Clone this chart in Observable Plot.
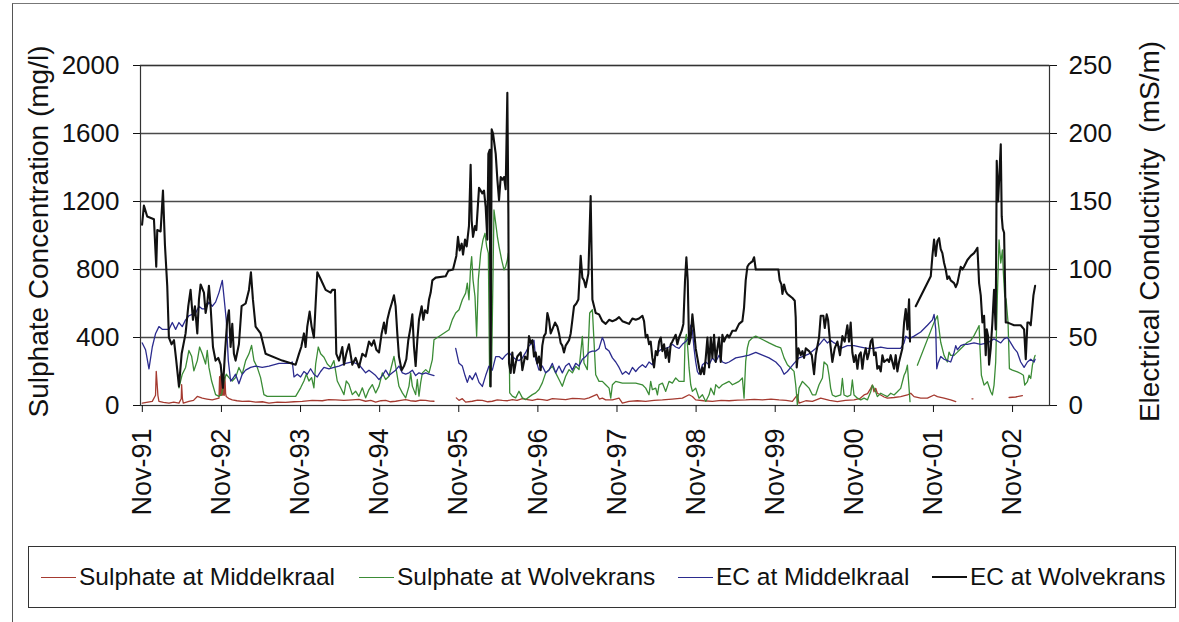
<!DOCTYPE html>
<html>
<head>
<meta charset="utf-8">
<script src="https://cdn.jsdelivr.net/npm/d3@7"></script>
<script src="https://cdn.jsdelivr.net/npm/@observablehq/plot@0.6"></script>
<style>
  html, body { margin: 0; padding: 0; background: #fff; }
  body { position: relative; width: 1179px; height: 622px; overflow: hidden; font-family: "Liberation Sans", Arial, sans-serif; color: #111; }
  #frame { position: absolute; left: 12px; top: 3px; right: 0; bottom: 0; border-left: 1.5px solid #555; border-top: 1px solid #777; pointer-events: none; }
  #chart { position: absolute; left: 0; top: 0; }
  #legend { position: absolute; left: 28px; top: 546px; width: 1146px; height: 60px; border: 1.5px solid #333; background: #fff; }
  .item { position: absolute; top: 0; height: 60px; display: flex; align-items: center; font-size: 24.5px; white-space: nowrap; }
  .sw { display: inline-block; width: 35px; height: 0; margin-right: 3px; }
</style>
</head>
<body>
<div id="frame"></div>
<div id="chart"></div>
<div id="legend"></div>
<script>
// ---- Data (decimal years, values) ----
const seriesNames = ["Sulphate at Middelkraal", "Sulphate at Wolvekrans", "EC at Middelkraal", "EC at Wolvekrans"];
const seriesColors = ["#a53a30", "#3b8c36", "#2b2b8e", "#111111"];

const xTickYears = [1991.833, 1992.833, 1993.833, 1994.833, 1995.833, 1996.833, 1997.833, 1998.833, 1999.833, 2000.833, 2001.833, 2002.833];
const xTickLabels = ["Nov-91", "Nov-92", "Nov-93", "Nov-94", "Nov-95", "Nov-96", "Nov-97", "Nov-98", "Nov-99", "Nov-00", "Nov-01", "Nov-02"];
const sulphateTicks = [0, 400, 800, 1200, 1600, 2000];
const ecTicks = [0, 50, 100, 150, 200, 250];

// Sulphate at Middelkraal (mg/l)
const sulphateMiddelkraal = [[1991.832,14],[1991.959,24],[1992.0,60],[1992.009,201],[1992.03,60],[1992.043,24],[1992.1,18],[1992.17,14],[1992.23,20],[1992.296,14],[1992.325,40],[1992.33,122],[1992.34,40],[1992.351,14],[1992.422,24],[1992.48,30],[1992.528,53],[1992.591,43],[1992.65,38],[1992.717,33],[1992.802,43],[1992.81,170],[1992.818,60],[1992.827,180],[1992.835,60],[1992.844,185],[1992.852,60],[1992.861,175],[1992.869,60],[1992.877,165],[1992.886,70],[1992.894,53],[1992.93,40],[1992.97,33],[1993.03,28],[1993.096,24],[1993.18,26],[1993.265,20],[1993.35,22],[1993.434,14],[1993.54,20],[1993.644,18],[1993.75,22],[1993.855,24],[1993.98,30],[1994.108,28],[1994.19,34],[1994.277,33],[1994.38,30],[1994.487,33],[1994.57,36],[1994.656,25],[1994.72,30],[1994.783,20],[1994.85,28],[1994.909,30],[1994.97,22],[1995.035,25],[1995.1,30],[1995.162,35],[1995.22,28],[1995.288,25],[1995.35,32],[1995.415,30],[1995.47,26],[1995.52,25],[1995.65,null],[1995.802,45],[1995.836,30],[1995.878,40],[1995.92,20],[1996.004,25],[1996.07,32],[1996.131,30],[1996.2,22],[1996.257,25],[1996.32,33],[1996.384,30],[1996.45,28],[1996.51,35],[1996.57,30],[1996.637,40],[1996.7,35],[1996.763,30],[1996.83,38],[1996.889,35],[1996.95,30],[1997.016,40],[1997.1,38],[1997.184,35],[1997.27,42],[1997.353,40],[1997.42,38],[1997.479,45],[1997.58,65],[1997.61,38],[1997.648,43],[1997.69,33],[1997.775,33],[1997.859,43],[1997.901,14],[1997.985,24],[1998.09,28],[1998.196,24],[1998.3,30],[1998.407,33],[1998.53,38],[1998.66,43],[1998.744,63],[1998.786,53],[1998.828,33],[1998.93,28],[1999.039,24],[1999.15,30],[1999.25,28],[1999.36,32],[1999.46,33],[1999.57,36],[1999.671,33],[1999.78,38],[1999.882,33],[1999.97,30],[2000.05,24],[2000.113,63],[2000.134,14],[2000.22,28],[2000.303,24],[2000.408,43],[2000.52,30],[2000.619,23],[2000.72,30],[2000.829,33],[2000.9,40],[2000.956,62],[2001.0,70],[2001.04,101],[2001.061,120],[2001.082,81],[2001.103,101],[2001.124,72],[2001.167,62],[2001.21,50],[2001.251,43],[2001.335,47],[2001.419,52],[2001.504,62],[2001.546,72],[2001.588,52],[2001.672,43],[2001.757,43],[2001.841,62],[2001.883,52],[2001.967,43],[2002.051,33],[2002.115,23],[2002.2,null],[2002.32,39],[2002.333,39],[2002.5,null],[2002.789,47],[2002.873,50],[2002.957,58]];

// Sulphate at Wolvekrans (mg/l)
const sulphateWolvekrans = [[1992.296,104],[1992.338,184],[1992.38,224],[1992.422,324],[1992.456,290],[1992.485,204],[1992.528,264],[1992.557,344],[1992.591,304],[1992.633,244],[1992.654,324],[1992.675,224],[1992.709,144],[1992.759,64],[1992.802,54],[1992.835,64],[1992.865,144],[1992.894,184],[1992.928,164],[1992.97,144],[1993.012,164],[1993.054,224],[1993.096,184],[1993.139,264],[1993.181,304],[1993.214,354],[1993.244,264],[1993.286,224],[1993.328,164],[1993.37,64],[1993.412,54],[1993.602,54],[1993.771,54],[1993.834,104],[1993.876,144],[1993.906,184],[1993.939,144],[1993.973,164],[1994.002,104],[1994.024,244],[1994.057,344],[1994.087,304],[1994.129,284],[1994.171,244],[1994.213,224],[1994.255,264],[1994.297,144],[1994.34,104],[1994.382,64],[1994.411,144],[1994.445,124],[1994.487,64],[1994.529,84],[1994.571,54],[1994.614,104],[1994.656,45],[1994.698,94],[1994.74,123],[1994.783,74],[1994.825,114],[1994.867,192],[1994.909,153],[1994.951,172],[1994.993,250],[1995.014,289],[1995.035,231],[1995.077,113],[1995.12,74],[1995.162,45],[1995.204,114],[1995.225,192],[1995.246,114],[1995.288,64],[1995.309,153],[1995.33,55],[1995.351,133],[1995.373,192],[1995.415,211],[1995.457,192],[1995.499,270],[1995.52,387],[1995.71,446],[1995.752,505],[1995.794,544],[1995.836,563],[1995.878,622],[1995.92,661],[1995.941,720],[1995.962,622],[1995.983,818],[1995.996,876],[1996.013,739],[1996.038,641],[1996.059,407],[1996.08,739],[1996.11,896],[1996.139,974],[1996.165,1013],[1996.186,935],[1996.207,896],[1996.224,113],[1996.249,250],[1996.278,1150],[1996.3,1072],[1996.321,994],[1996.342,935],[1996.375,857],[1996.405,798],[1996.426,818],[1996.447,857],[1996.46,896],[1996.477,74],[1996.51,55],[1996.552,45],[1996.594,84],[1996.637,45],[1996.679,35],[1996.763,64],[1996.805,74],[1996.847,94],[1996.889,133],[1996.932,192],[1996.974,211],[1997.016,231],[1997.058,192],[1997.1,153],[1997.142,113],[1997.184,172],[1997.227,211],[1997.269,192],[1997.311,231],[1997.353,211],[1997.395,407],[1997.416,250],[1997.458,211],[1997.488,544],[1997.522,563],[1997.564,181],[1997.606,142],[1997.648,142],[1997.69,122],[1997.733,102],[1997.754,43],[1997.775,122],[1997.817,142],[1997.901,132],[1997.985,132],[1998.07,132],[1998.154,122],[1998.196,102],[1998.238,63],[1998.259,142],[1998.28,93],[1998.323,102],[1998.344,63],[1998.365,122],[1998.407,132],[1998.449,83],[1998.491,142],[1998.533,132],[1998.575,162],[1998.618,142],[1998.681,142],[1998.693,378],[1998.71,418],[1998.727,339],[1998.744,221],[1998.765,122],[1998.786,83],[1998.828,102],[1998.87,43],[1998.913,63],[1998.955,24],[1998.997,63],[1999.018,102],[1999.06,63],[1999.081,122],[1999.123,102],[1999.165,122],[1999.207,132],[1999.25,142],[1999.292,122],[1999.334,132],[1999.376,142],[1999.418,162],[1999.439,43],[1999.46,260],[1999.481,339],[1999.502,378],[1999.545,398],[1999.587,408],[1999.671,388],[1999.755,368],[1999.84,349],[1999.903,339],[1999.945,280],[1999.987,240],[2000.029,221],[2000.071,201],[2000.092,122],[2000.113,4],[2000.134,102],[2000.177,142],[2000.219,122],[2000.261,102],[2000.303,63],[2000.345,63],[2000.387,122],[2000.43,162],[2000.45,256],[2000.492,237],[2000.513,178],[2000.534,101],[2000.555,62],[2000.597,52],[2000.661,62],[2000.682,159],[2000.703,62],[2000.745,52],[2000.787,62],[2000.808,150],[2000.829,62],[2000.872,43],[2000.914,33],[2000.956,43],[2000.998,33],[2001.04,81],[2001.061,120],[2001.082,101],[2001.103,81],[2001.124,52],[2001.167,72],[2001.209,62],[2001.251,52],[2001.293,72],[2001.335,62],[2001.377,81],[2001.419,101],[2001.462,178],[2001.483,198],[2001.504,237],[2001.525,101],[2001.537,23],[2001.58,null],[2001.63,237],[2001.841,489],[2001.883,528],[2001.904,450],[2001.925,372],[2001.967,295],[2002.009,256],[2002.03,314],[2002.051,295],[2002.094,295],[2002.136,314],[2002.178,334],[2002.22,353],[2002.262,372],[2002.304,382],[2002.346,411],[2002.389,450],[2002.41,470],[2002.422,334],[2002.439,178],[2002.473,120],[2002.515,140],[2002.557,81],[2002.578,62],[2002.599,120],[2002.62,256],[2002.641,644],[2002.662,974],[2002.684,838],[2002.705,915],[2002.717,780],[2002.734,644],[2002.751,625],[2002.776,489],[2002.793,217],[2002.831,208],[2002.894,198],[2002.936,188],[2002.97,178],[2002.987,120],[2003.021,140],[2003.042,178],[2003.063,159],[2003.084,237],[2003.105,275],[2003.118,295]];

// EC at Middelkraal (mS/m)
const ecMiddelkraal = [[1991.832,46],[1991.874,41],[1991.917,27],[1991.959,43],[1992.001,53],[1992.043,58],[1992.085,56],[1992.128,56],[1992.17,56],[1992.212,61],[1992.254,56],[1992.296,61],[1992.338,58],[1992.38,63],[1992.422,66],[1992.464,67],[1992.507,68],[1992.549,73],[1992.591,71],[1992.633,71],[1992.675,76],[1992.717,73],[1992.759,76],[1992.802,83],[1992.844,92],[1992.865,80],[1992.894,63],[1992.92,33],[1992.949,18],[1992.979,20],[1993.012,23],[1993.054,16],[1993.096,23],[1993.139,26],[1993.202,28],[1993.265,29],[1993.349,28],[1993.434,29],[1993.56,31],[1993.686,31],[1993.729,32],[1993.75,21],[1993.792,23],[1993.834,21],[1993.876,25],[1993.918,23],[1993.96,27],[1994.002,23],[1994.045,21],[1994.087,25],[1994.129,28],[1994.192,27],[1994.255,28],[1994.319,29],[1994.403,31],[1994.487,32],[1994.571,30],[1994.614,27],[1994.656,24],[1994.698,26],[1994.74,24],[1994.783,22],[1994.825,19],[1994.867,22],[1994.909,26],[1994.951,22],[1994.993,24],[1995.035,26],[1995.077,29],[1995.12,24],[1995.162,23],[1995.204,24],[1995.246,26],[1995.288,22],[1995.33,24],[1995.373,23],[1995.415,24],[1995.457,23],[1995.52,22],[1995.65,null],[1995.794,42],[1995.836,31],[1995.878,29],[1995.912,22],[1995.941,17],[1995.971,22],[1996.004,19],[1996.047,24],[1996.089,17],[1996.131,14],[1996.173,22],[1996.215,29],[1996.257,26],[1996.3,36],[1996.342,36],[1996.384,34],[1996.426,37],[1996.468,39],[1996.51,36],[1996.552,34],[1996.594,33],[1996.637,35],[1996.679,39],[1996.721,44],[1996.763,46],[1996.784,48],[1996.805,34],[1996.847,26],[1996.889,29],[1996.932,24],[1996.974,26],[1997.016,31],[1997.058,24],[1997.1,29],[1997.142,24],[1997.184,29],[1997.227,31],[1997.269,26],[1997.311,31],[1997.353,29],[1997.395,34],[1997.437,36],[1997.479,39],[1997.522,40],[1997.564,40],[1997.606,42],[1997.648,50],[1997.669,47],[1997.69,42],[1997.733,40],[1997.775,35],[1997.817,32],[1997.859,28],[1997.901,23],[1997.943,25],[1997.985,23],[1998.028,28],[1998.07,25],[1998.112,28],[1998.154,30],[1998.196,28],[1998.238,32],[1998.28,30],[1998.323,37],[1998.365,40],[1998.407,42],[1998.449,42],[1998.491,43],[1998.533,45],[1998.575,43],[1998.618,42],[1998.66,45],[1998.702,47],[1998.744,50],[1998.765,59],[1998.786,55],[1998.807,42],[1998.828,32],[1998.849,25],[1998.87,23],[1998.891,25],[1998.913,30],[1998.955,32],[1998.997,30],[1999.039,35],[1999.081,32],[1999.123,37],[1999.165,32],[1999.207,31],[1999.25,32],[1999.334,35],[1999.418,36],[1999.502,37],[1999.587,39],[1999.671,37],[1999.755,35],[1999.84,32],[1999.903,28],[1999.945,23],[1999.987,25],[2000.029,28],[2000.071,31],[2000.134,35],[2000.177,36],[2000.261,38],[2000.345,42],[2000.408,46],[2000.45,49],[2000.492,46],[2000.534,48],[2000.577,46],[2000.619,45],[2000.661,42],[2000.745,44],[2000.829,44],[2000.914,43],[2000.998,42],[2001.082,42],[2001.167,43],[2001.251,42],[2001.335,42],[2001.419,42],[2001.462,46],[2001.483,51],[2001.525,49],[2001.588,51],[2001.672,54],[2001.757,59],[2001.82,63],[2001.841,67],[2001.862,56],[2001.875,27],[2001.891,31],[2001.925,36],[2001.967,34],[2002.009,33],[2002.051,32],[2002.094,39],[2002.115,44],[2002.136,41],[2002.178,44],[2002.22,45],[2002.262,45],[2002.346,46],[2002.431,45],[2002.515,46],[2002.599,49],[2002.684,46],[2002.726,49],[2002.768,50],[2002.81,46],[2002.852,42],[2002.894,39],[2002.936,32],[2002.979,28],[2003.021,32],[2003.063,34],[2003.105,32],[2003.118,34]];

// EC at Wolvekrans (mS/m)
const ecWolvekrans = [[1991.83,133],[1991.853,147],[1991.895,139],[1991.98,137],[1992.009,102],[1992.022,129],[1992.064,128],[1992.094,158],[1992.119,118],[1992.148,88],[1992.169,50],[1992.203,45],[1992.233,48],[1992.262,33],[1992.296,14],[1992.33,38],[1992.38,53],[1992.414,73],[1992.443,85],[1992.473,63],[1992.498,73],[1992.528,53],[1992.549,78],[1992.57,89],[1992.612,83],[1992.633,68],[1992.654,75],[1992.675,88],[1992.696,73],[1992.726,43],[1992.759,33],[1992.793,35],[1992.823,30],[1992.852,13],[1992.877,38],[1992.907,63],[1992.928,70],[1992.949,43],[1992.97,60],[1992.991,38],[1993.012,33],[1993.054,45],[1993.088,73],[1993.139,75],[1993.181,85],[1993.206,98],[1993.231,78],[1993.265,58],[1993.328,53],[1993.391,38],[1993.602,33],[1993.771,30],[1993.813,38],[1993.842,43],[1993.876,53],[1993.897,43],[1993.918,58],[1993.948,69],[1993.973,58],[1994.002,50],[1994.024,75],[1994.045,98],[1994.087,93],[1994.15,85],[1994.213,83],[1994.234,85],[1994.268,85],[1994.285,38],[1994.319,33],[1994.361,43],[1994.382,30],[1994.411,38],[1994.445,45],[1994.487,30],[1994.529,35],[1994.571,28],[1994.614,38],[1994.656,36],[1994.698,47],[1994.732,44],[1994.761,48],[1994.791,41],[1994.825,39],[1994.858,53],[1994.888,61],[1994.909,53],[1994.93,63],[1994.959,70],[1994.985,75],[1995.014,81],[1995.035,73],[1995.056,53],[1995.077,36],[1995.111,26],[1995.141,29],[1995.17,34],[1995.195,48],[1995.225,58],[1995.246,67],[1995.267,43],[1995.288,29],[1995.309,48],[1995.33,63],[1995.364,73],[1995.385,63],[1995.406,70],[1995.436,68],[1995.457,78],[1995.478,83],[1995.499,92],[1995.541,94],[1995.667,95],[1995.701,99],[1995.76,100],[1995.802,110],[1995.823,124],[1995.844,114],[1995.87,119],[1995.887,111],[1995.912,122],[1995.933,117],[1995.962,132],[1995.983,177],[1995.996,136],[1996.013,124],[1996.038,132],[1996.055,129],[1996.089,160],[1996.131,156],[1996.152,158],[1996.173,146],[1996.194,122],[1996.207,185],[1996.224,188],[1996.236,14],[1996.249,203],[1996.266,200],[1996.3,185],[1996.321,166],[1996.342,151],[1996.363,168],[1996.384,166],[1996.405,168],[1996.426,159],[1996.447,230],[1996.46,141],[1996.468,31],[1996.489,24],[1996.51,39],[1996.531,24],[1996.552,31],[1996.573,36],[1996.616,39],[1996.637,26],[1996.67,36],[1996.7,34],[1996.721,51],[1996.742,46],[1996.763,48],[1996.784,36],[1996.805,39],[1996.826,31],[1996.847,36],[1996.868,26],[1996.889,44],[1996.91,51],[1996.932,53],[1996.953,68],[1996.974,63],[1996.995,53],[1997.016,56],[1997.05,61],[1997.079,58],[1997.1,53],[1997.121,46],[1997.142,44],[1997.163,39],[1997.184,44],[1997.206,46],[1997.227,48],[1997.248,53],[1997.269,63],[1997.29,73],[1997.319,75],[1997.345,78],[1997.374,110],[1997.395,94],[1997.416,92],[1997.437,87],[1997.471,97],[1997.5,154],[1997.522,78],[1997.564,68],[1997.606,67],[1997.648,62],[1997.69,60],[1997.733,63],[1997.775,62],[1997.817,63],[1997.859,65],[1997.901,62],[1997.943,61],[1997.985,60],[1998.028,64],[1998.07,63],[1998.112,64],[1998.154,66],[1998.175,62],[1998.196,50],[1998.217,52],[1998.238,45],[1998.259,47],[1998.28,35],[1998.301,28],[1998.323,40],[1998.344,37],[1998.365,47],[1998.386,50],[1998.407,40],[1998.428,45],[1998.449,35],[1998.47,42],[1998.491,32],[1998.512,45],[1998.533,47],[1998.575,52],[1998.596,45],[1998.618,50],[1998.651,55],[1998.672,60],[1998.693,92],[1998.71,109],[1998.727,92],[1998.744,45],[1998.765,50],[1998.786,67],[1998.807,55],[1998.828,42],[1998.849,35],[1998.87,28],[1998.891,23],[1998.913,28],[1998.934,23],[1998.955,35],[1998.976,50],[1998.997,28],[1999.018,50],[1999.039,35],[1999.06,52],[1999.081,32],[1999.102,42],[1999.123,50],[1999.144,32],[1999.165,52],[1999.186,47],[1999.207,50],[1999.229,52],[1999.25,50],[1999.292,55],[1999.334,55],[1999.376,60],[1999.418,62],[1999.439,72],[1999.46,92],[1999.481,102],[1999.502,104],[1999.523,105],[1999.545,106],[1999.566,109],[1999.587,100],[1999.671,100],[1999.755,100],[1999.84,100],[1999.873,100],[1999.89,92],[1999.911,89],[1999.924,82],[1999.945,89],[1999.966,84],[1999.987,82],[2000.008,81],[2000.05,79],[2000.08,77],[2000.092,65],[2000.105,28],[2000.126,42],[2000.156,37],[2000.177,40],[2000.198,35],[2000.219,42],[2000.261,40],[2000.295,37],[2000.324,23],[2000.345,37],[2000.387,50],[2000.408,66],[2000.442,66],[2000.459,57],[2000.484,67],[2000.501,63],[2000.526,47],[2000.555,32],[2000.585,42],[2000.619,47],[2000.652,37],[2000.682,51],[2000.711,47],[2000.745,59],[2000.766,47],[2000.787,61],[2000.808,39],[2000.829,32],[2000.85,37],[2000.872,27],[2000.893,37],[2000.914,39],[2000.935,27],[2000.956,37],[2000.977,42],[2000.998,34],[2001.019,39],[2001.04,47],[2001.061,49],[2001.082,37],[2001.103,39],[2001.124,27],[2001.145,29],[2001.167,25],[2001.188,37],[2001.209,32],[2001.251,34],[2001.272,32],[2001.293,37],[2001.314,32],[2001.335,27],[2001.356,37],[2001.377,25],[2001.398,32],[2001.419,37],[2001.44,42],[2001.462,61],[2001.483,71],[2001.504,56],[2001.525,78],[2001.537,47],[2001.57,null],[2001.609,73],[2001.799,95],[2001.82,110],[2001.841,122],[2001.862,110],[2001.883,121],[2001.904,123],[2001.925,115],[2001.946,112],[2001.967,105],[2001.988,100],[2002.009,93],[2002.03,95],[2002.051,92],[2002.094,90],[2002.115,87],[2002.136,90],[2002.178,102],[2002.199,100],[2002.22,102],[2002.262,107],[2002.304,110],[2002.346,112],[2002.368,114],[2002.389,116],[2002.41,90],[2002.431,81],[2002.452,61],[2002.473,66],[2002.494,37],[2002.507,56],[2002.524,51],[2002.536,30],[2002.557,42],[2002.578,61],[2002.599,85],[2002.62,56],[2002.633,180],[2002.65,150],[2002.667,170],[2002.684,192],[2002.696,139],[2002.709,130],[2002.726,127],[2002.747,61],[2002.768,61],[2002.81,60],[2002.852,59],[2002.936,59],[2002.979,56],[2003.0,34],[2003.021,61],[2003.042,61],[2003.063,59],[2003.097,81],[2003.118,88]];

// EC axis (0–250 mS/m) shares the sulphate axis (0–2000 mg/l)
const ecToSulphate = 2000 / 250;

const val = d => d[1] == null ? NaN : d[1];
const ecVal = d => d[1] == null ? NaN : d[1] * ecToSulphate;

const chart = Plot.plot({
  width: 1179,
  height: 540,
  marginLeft: 140,
  marginRight: 130,
  marginTop: 65,
  marginBottom: 135,
  style: { fontFamily: "'Liberation Sans', Arial, sans-serif", color: "#111", background: "transparent", overflow: "visible" },
  x: { domain: [1991.81, 2003.30] },
  y: { domain: [0, 2000] },
  marks: [
    Plot.ruleY(sulphateTicks.slice(1), { stroke: "#4a4a4a", strokeWidth: 1.4 }),
    Plot.frame({ stroke: "#333", strokeWidth: 1.2 }),
    Plot.line(sulphateMiddelkraal, { x: d => d[0], y: val, stroke: seriesColors[0], strokeWidth: 1.3 }),
    Plot.line(sulphateWolvekrans, { x: d => d[0], y: val, stroke: seriesColors[1], strokeWidth: 1.3 }),
    Plot.line(ecMiddelkraal, { x: d => d[0], y: ecVal, stroke: seriesColors[2], strokeWidth: 1.3 }),
    Plot.line(ecWolvekrans, { x: d => d[0], y: ecVal, stroke: seriesColors[3], strokeWidth: 2.1 }),
    Plot.axisY({ anchor: "left", ticks: sulphateTicks, tickFormat: v => String(v), tickSize: 7, tickPadding: 14, fontSize: 26, label: null }),
    Plot.axisY({ anchor: "right", ticks: ecTicks.map(v => v * ecToSulphate), tickFormat: v => String(v / ecToSulphate), tickSize: 7, tickPadding: 12, fontSize: 26, label: null }),
    Plot.axisX({ ticks: xTickYears, tickFormat: v => xTickLabels[xTickYears.indexOf(v)], tickRotate: -90, tickSize: 7, tickPadding: 16, fontSize: 27, label: null }),
    Plot.text(["Sulphate Concentration (mg/l)"], { text: d => d, frameAnchor: "left", textAnchor: "middle", dx: -101, dy: -4, rotate: -90, fontSize: 28, fill: "#111" }),
    Plot.text(["Electrical Conductivity\u00a0 (mS/m)"], { text: d => d, frameAnchor: "right", textAnchor: "middle", dx: 101, dy: -4, rotate: -90, fontSize: 28, fill: "#111" })
  ]
});
document.getElementById("chart").appendChild(chart);

// Legend
const legendLeft = [12, 330, 649, 903];
const legend = document.getElementById("legend");
seriesNames.forEach((name, i) => {
  const item = document.createElement("div");
  item.className = "item";
  item.style.left = legendLeft[i] + "px";
  const sw = document.createElement("span");
  sw.className = "sw";
  sw.style.borderTop = (i === 3 ? 2 : 1.5) + "px solid " + seriesColors[i];
  const tx = document.createElement("span");
  tx.textContent = name;
  item.appendChild(sw);
  item.appendChild(tx);
  legend.appendChild(item);
});
</script>
</body>
</html>
